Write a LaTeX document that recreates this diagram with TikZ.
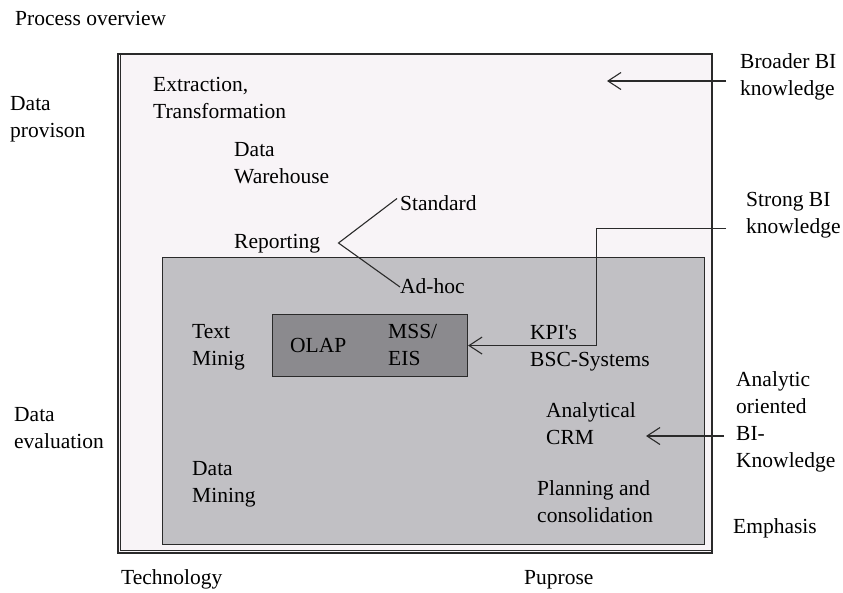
\documentclass[tikz,border=0pt]{standalone}
\usepackage{fontspec}
\setmainfont{Liberation Serif}
\usetikzlibrary{arrows.meta}
\definecolor{framefill}{HTML}{F8F4F7}
\definecolor{midgray}{HTML}{C1C0C4}
\definecolor{darkbox}{HTML}{8B8A8E}
\definecolor{ink}{HTML}{2A2A2A}
% multi-line labels are placed by the baseline of their last line
\tikzset{
  lbl/.style={anchor=base west, inner sep=0pt, align=left, text=black,
    font=\fontsize{21.5}{27}\selectfont},
  frameline/.style={draw=ink, line width=1.1pt},
  conn/.style={draw=ink, line width=1.1pt},
  pointer/.style={conn, -{Straight Barb[length=13pt,width=17pt,line width=1.1pt]}},
}
\begin{document}
\begin{tikzpicture}[x=1pt,y=-1pt]
\useasboundingbox[fill=white] (0,0) rectangle (843,592);

% outer frame with doubled left and bottom edges
\path[fill=framefill] (118,54) rectangle (712,553);
\draw[frameline] (118,54) rectangle (712,553);
\draw[frameline] (120.6,54) -- (120.6,550.4) -- (712,550.4);

% evaluation area and the OLAP box
\node[frameline, fill=midgray, minimum width=542pt, minimum height=287pt,
      anchor=north west, inner sep=0pt] (evalbox) at (162,257) {};
\node[frameline, fill=darkbox, minimum width=195pt, minimum height=62pt,
      anchor=north west, inner sep=0pt] (olapbox) at (272,314) {};

% captions around the frame
\node[lbl] (title) at (15,25) {Process overview};
\node[lbl] (provision) at (10,137) {Data\\provison};
\node[lbl] (evaluation) at (14,448) {Data\\evaluation};
\node[lbl] (technology) at (121,584) {Technology};
\node[lbl] (purpose) at (524,584) {Puprose};
\node[lbl] (broader) at (740,95) {Broader BI\\knowledge};
\node[lbl] (strong) at (746,233) {Strong BI\\knowledge};
\node[lbl] (analytic) at (736,467) {Analytic\\oriented\\BI-\\Knowledge};
\node[lbl] (emphasis) at (733,533) {Emphasis};

% data provision items
\node[lbl] (extraction) at (153,118) {Extraction,\\Transformation};
\node[lbl] (warehouse) at (234,183) {Data\\Warehouse};
\node[lbl] (reporting) at (234,248) {Reporting};
\node[lbl] (standard) at (400,210) {Standard};
\node[lbl] (adhoc) at (400,293) {Ad-hoc};

% data evaluation items
\node[lbl] (textmining) at (192,365) {Text\\Minig};
\node[lbl] (olap) at (290,352) {OLAP};
\node[lbl] (mss) at (388,365) {MSS/\\EIS};
\node[lbl] (kpi) at (530,366) {KPI\textquotesingle s\\BSC-Systems};
\node[lbl] (crm) at (546,444) {Analytical\\CRM};
\node[lbl] (datamining) at (192,502) {Data\\Mining};
\node[lbl] (planning) at (537,522) {Planning and\\consolidation};

% reporting branches
\coordinate (fork) at (338.5,243);
\coordinate (stdend) at (397,198.5);
\coordinate (adhocend) at (400,287);
\draw[conn] (stdend) -- (fork) -- (adhocend);

% knowledge pointers
\coordinate (broaderstart) at (726,81);
\coordinate (broaderend) at (607,81);
\draw[pointer] (broaderstart) -- (broaderend);

\coordinate (strongstart) at (726,228.5);
\coordinate (strongbend) at (596.5,228.5);
\draw[pointer] (strongstart) -- (strongbend) |- (olapbox.east);

\coordinate (analyticstart) at (724,436);
\coordinate (analyticend) at (646,436);
\draw[pointer] (analyticstart) -- (analyticend);
\end{tikzpicture}
\end{document}
